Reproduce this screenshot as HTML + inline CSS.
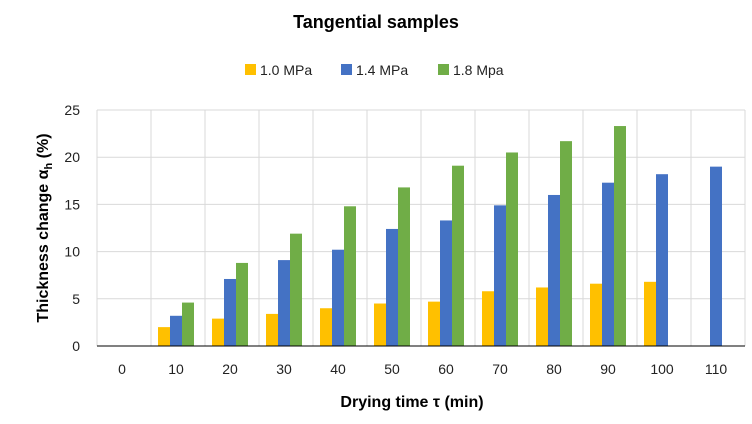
<!DOCTYPE html>
<html><head><meta charset="utf-8"><style>
body{margin:0;background:#fff;font-family:"Liberation Sans",sans-serif;}
</style></head><body>
<svg width="752" height="419" xmlns="http://www.w3.org/2000/svg" id="chart" font-family="Liberation Sans, sans-serif">
<text x="376" y="28" text-anchor="middle" font-size="18" font-weight="bold" fill="#000">Tangential samples</text>
<g id="legend" font-size="14" fill="#222"></g>
<g id="grid"></g><g id="bars"></g><g id="axes"></g>
<text x="412" y="407" text-anchor="middle" font-size="16" font-weight="bold">Drying time τ (min)</text>
<text transform="translate(48,228) rotate(-90)" text-anchor="middle" font-size="16" font-weight="bold">Thickness change α<tspan font-size="11" dy="4">h</tspan><tspan dy="-4"> (%)</tspan></text>
</svg>
<script>
const categories=["0","10","20","30","40","50","60","70","80","90","100","110"];
const s10=[0,2.0,2.9,3.4,4.0,4.5,4.7,5.8,6.2,6.6,6.8,0];
const s14=[0,3.2,7.1,9.1,10.2,12.4,13.3,14.9,16.0,17.3,18.2,19.0];
const s18=[0,4.6,8.8,11.9,14.8,16.8,19.1,20.5,21.7,23.3,0,0];
const yTicks=[0,5,10,15,20,25];
const seriesNames=["1.0 MPa","1.4 MPa","1.8 Mpa"];
const colors=["#FFC000","#4472C4","#70AD47"];
const X0=97,X1=745,Y0=346,Y1=110,YMAX=25;
const bw=(X1-X0)/categories.length;
const y=v=>Y0-(v/YMAX)*(Y0-Y1);
const xc=i=>X0+bw*(i+0.5)-2;
const NS="http://www.w3.org/2000/svg";
function mk(tag,attrs,parent){const e=document.createElementNS(NS,tag);for(const k in attrs)e.setAttribute(k,attrs[k]);document.getElementById(parent).appendChild(e);return e;}
yTicks.forEach(t=>{
 const l=mk("line",{x1:X0,x2:X1,y1:y(t),y2:y(t),stroke:t===0?"#000":"#d9d9d9","stroke-width":1},t===0?"axes":"grid");
 
 
 const tx=mk("text",{x:80,y:y(t)+5,"text-anchor":"end","font-size":14,fill:"#222"},"axes");tx.textContent=t;
 
 
});
for(let i=0;i<=categories.length;i++){
 const l=mk("line",{x1:X0+bw*i,x2:X0+bw*i,y1:Y1,y2:Y0,stroke:"#d9d9d9"},"grid");
 
 
}
categories.forEach((c,i)=>{
 const tx=mk("text",{x:xc(i),y:374,"text-anchor":"middle","font-size":14,fill:"#222"},"axes");tx.textContent=c;
 
 
});
const series=[s10,s14,s18];const w=12;
series.forEach((s,k)=>{s.forEach((v,i)=>{
 if(v<=0)return;
 const r=mk("rect",{x:xc(i)+(k-1.5)*w,y:y(v),width:w,height:Y0-y(v),fill:colors[k]},"bars");
 
 
});});
const lx=[245,341,438];
seriesNames.forEach((n,k)=>{
 const r=mk("rect",{x:lx[k],y:64,width:11,height:11,fill:colors[k]},"legend");
 
 
 const t=mk("text",{x:lx[k]+15,y:75,"font-size":14,fill:"#222"},"legend");t.textContent=n;
 
 
});
</script>
</body></html>
